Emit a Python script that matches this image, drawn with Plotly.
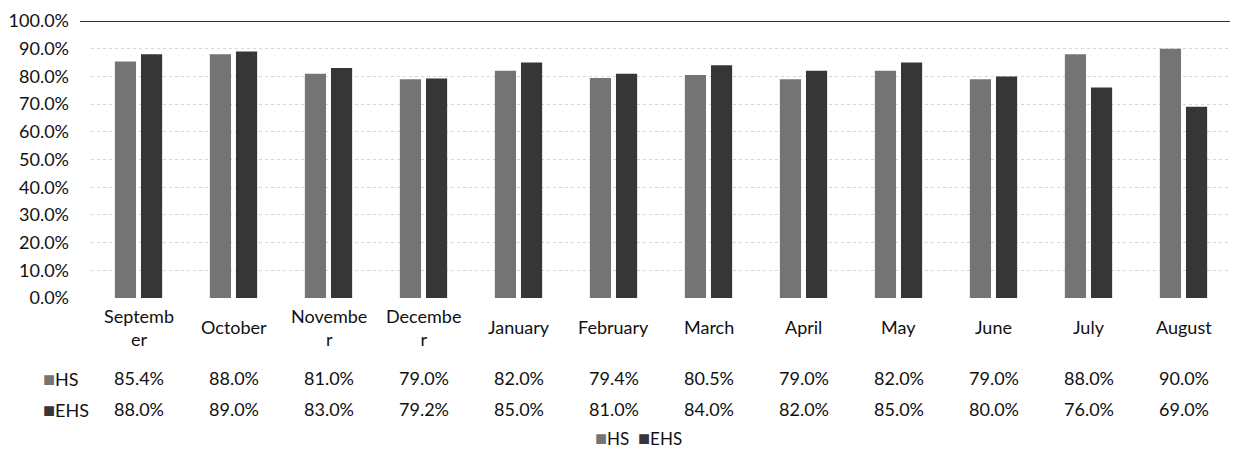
import plotly.graph_objects as go

months = ["September", "October", "November", "December", "January", "February",
          "March", "April", "May", "June", "July", "August"]
month_labels = ["Septemb<br>er", "October", "Novembe<br>r", "Decembe<br>r", "January", "February",
                "March", "April", "May", "June", "July", "August"]
hs = [85.4, 88.0, 81.0, 79.0, 82.0, 79.4, 80.5, 79.0, 82.0, 79.0, 88.0, 90.0]
ehs = [88.0, 89.0, 83.0, 79.2, 85.0, 81.0, 84.0, 82.0, 85.0, 80.0, 76.0, 69.0]
y_ticks = [0, 10, 20, 30, 40, 50, 60, 70, 80, 90, 100]

HS_COLOR = "#747474"
EHS_COLOR = "#363636"
FONT = "Lato, 'Open Sans', sans-serif"
FS = 18

fig = go.Figure()
fig.add_trace(go.Bar(x=months, y=hs, name="HS", marker=dict(color=HS_COLOR, line=dict(width=0))))
fig.add_trace(go.Bar(x=months, y=ehs, name="EHS", marker=dict(color=EHS_COLOR, line=dict(width=0))))

OFF = 8  # page body margin
W, H = 1238 - OFF, 452 - OFF
T = 21 - OFF
B = H - (298 - OFF)
L = 91 - OFF
R = W - (1231 - OFF)
ph = H - T - B
pw = W - L - R

def py(pix):  # pix = page pixel (reference coords)
    return (H - B - (pix - OFF)) / ph

def px(pix):
    return (pix - OFF - L) / pw

txt = dict(size=FS, color="#111", family=FONT)
SQ = "font-size:20px"
ann = []
for m, lab in zip(months, month_labels):
    ann.append(dict(x=m, y=py(327), xref="x", yref="paper", text=lab, showarrow=False,
                    yanchor="middle", font=txt))
for m, v in zip(months, hs):
    ann.append(dict(x=m, y=py(378), xref="x", yref="paper", text=f"{v:.1f}%", showarrow=False,
                    yanchor="middle", font=txt))
for m, v in zip(months, ehs):
    ann.append(dict(x=m, y=py(409), xref="x", yref="paper", text=f"{v:.1f}%", showarrow=False,
                    yanchor="middle", font=txt))
ann.append(dict(x=px(41), y=py(378), xref="paper", yref="paper",
                text=f"<span style='color:{HS_COLOR};{SQ}'>■</span>HS", showarrow=False,
                xanchor="left", yanchor="middle", font=txt))
ann.append(dict(x=px(41), y=py(409), xref="paper", yref="paper",
                text=f"<span style='color:{EHS_COLOR};{SQ}'>■</span>EHS", showarrow=False,
                xanchor="left", yanchor="middle", font=txt))
# legend (drawn as text to match the compact original)
ann.append(dict(x=px(593), y=py(437), xref="paper", yref="paper",
                text=(f"<span style='color:{HS_COLOR};{SQ}'>■</span>HS&nbsp;&nbsp;"
                      f"<span style='color:{EHS_COLOR};{SQ}'>■</span>EHS"),
                showarrow=False, xanchor="left", yanchor="middle",
                font=dict(size=17, color="#111", family=FONT)))

fig.update_layout(
    width=W, height=H,
    margin=dict(l=L, r=R, t=T, b=B, autoexpand=False),
    paper_bgcolor="white", plot_bgcolor="white",
    barmode="group", bargap=0.45, bargroupgap=0.19,
    font=dict(family=FONT, size=FS, color="#111"),
    showlegend=False,
    annotations=ann,
    shapes=[dict(type="line", xref="paper", yref="y", x0=px(80), x1=1.01, y0=100, y1=100,
                 line=dict(color="#333", width=2))],
)
fig.update_xaxes(showticklabels=False, showgrid=False, showline=False, ticks="", automargin=False)
fig.update_yaxes(range=[0, 100], tickvals=y_ticks, ticktext=[f"{v:.1f}%" for v in y_ticks],
                 showgrid=True, gridcolor="#d6d6d6", griddash="dot", gridwidth=1,
                 zeroline=False, showline=False, ticks="", ticklabelstandoff=21, automargin=False,
                 ticklabeloverflow="allow",
                 tickfont=dict(size=FS, color="#111", family=FONT))

fig.write_html("out.html")
